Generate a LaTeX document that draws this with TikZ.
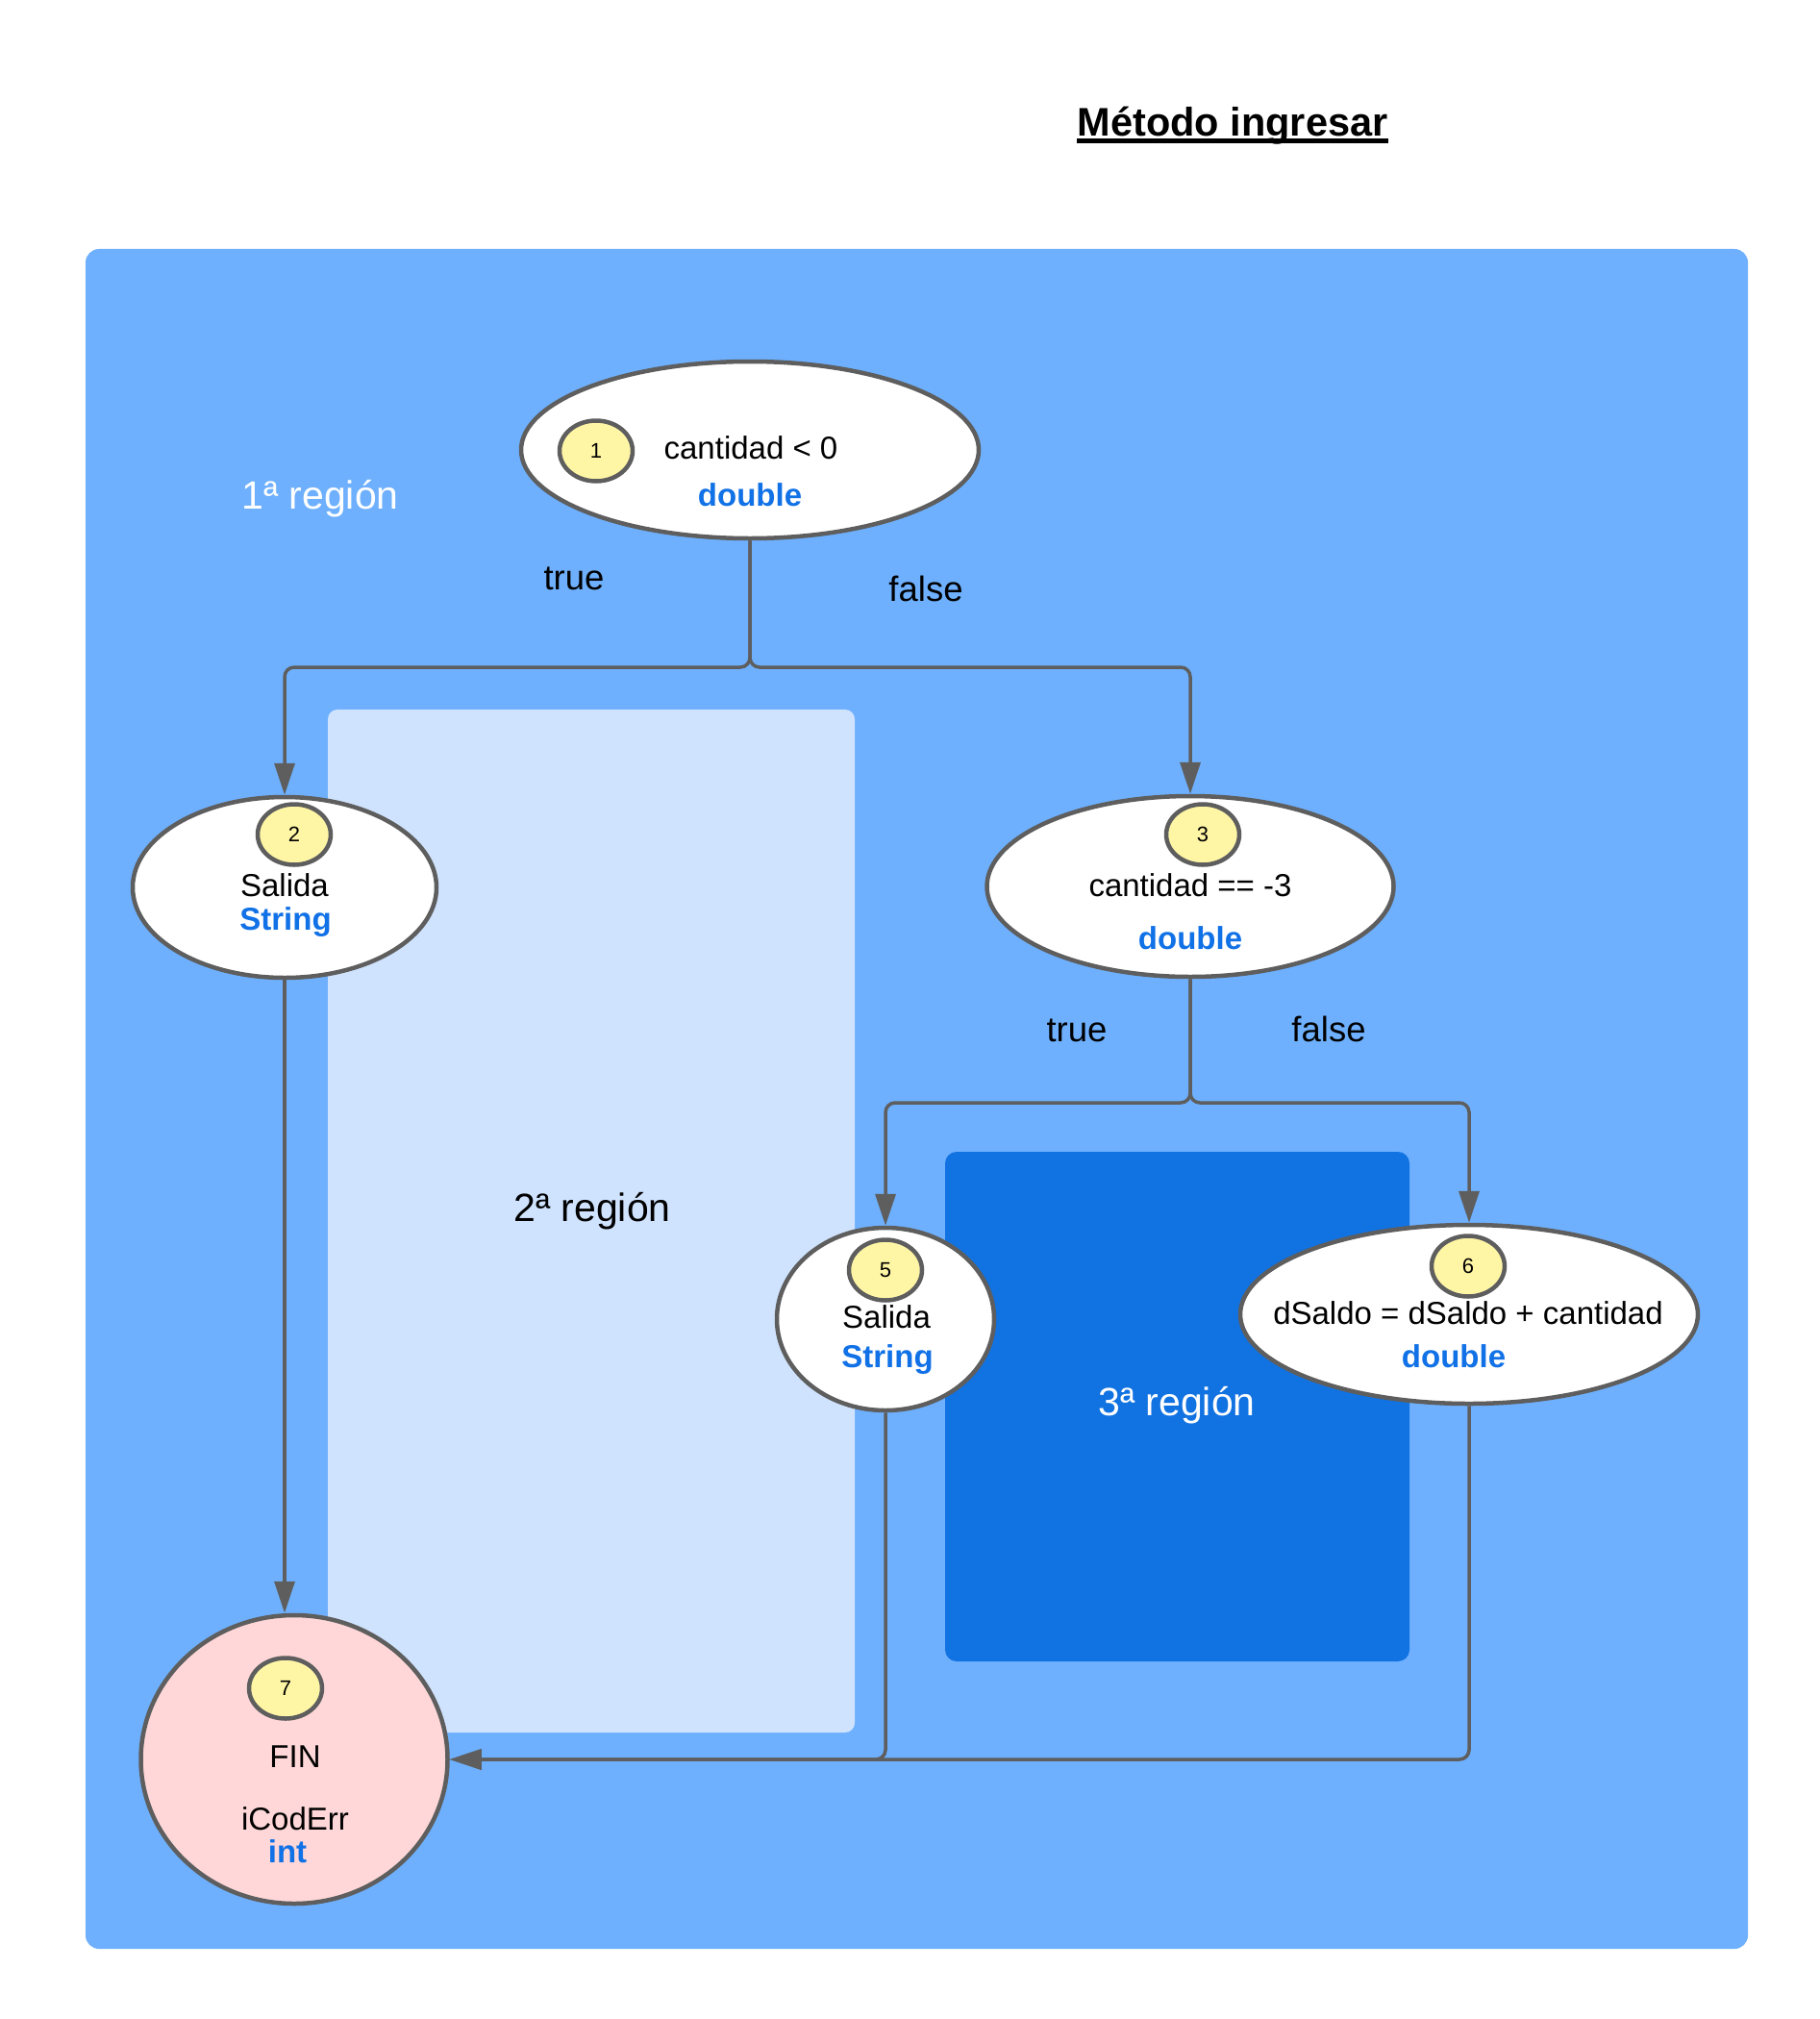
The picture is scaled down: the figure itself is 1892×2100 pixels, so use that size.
\documentclass[tikz,border=0pt]{standalone}
\usepackage{fontspec}
\setmainfont{Liberation Sans}
\usetikzlibrary{arrows.meta,shapes.geometric}
\definecolor{bgblue}{HTML}{6EB0FD}
\definecolor{lightreg}{HTML}{CFE3FE}
\definecolor{darkreg}{HTML}{1172E2}
\definecolor{edgegray}{HTML}{5E5E5E}
\definecolor{numyellow}{HTML}{FFF6A5}
\definecolor{finpink}{HTML}{FFD7D8}
\definecolor{typeblue}{HTML}{1171E6}
\begin{document}
\begin{tikzpicture}[x=1pt,y=-1pt,
  stmt/.style={ellipse, draw=edgegray, line width=4.5pt, fill=white, inner sep=0pt},
  numbox/.style={ellipse, draw=edgegray, line width=4.5pt, fill=numyellow, inner sep=0pt,
     minimum width=76pt, minimum height=63pt, font=\fontsize{22}{26}\selectfont},
  txt/.style={inner sep=0pt, anchor=base, font=\fontsize{33}{40}\selectfont},
  typ/.style={inner sep=0pt, anchor=base, text=typeblue, font=\bfseries\fontsize{33}{40}\selectfont},
  branch/.style={inner sep=0pt, anchor=base, font=\fontsize{36.5}{44}\selectfont},
  region/.style={inner sep=0pt, anchor=base, font=\fontsize{41}{50}\selectfont},
  conn/.style={draw=edgegray, line width=3.5pt, rounded corners=10pt,
     -{Triangle[length=33pt,width=21pt]}},
]
\useasboundingbox (0,0) rectangle (1892,2100);
\fill[white] (0,0) rectangle (1892,2100);

% title
\node[inner sep=0pt, anchor=base, font=\bfseries\fontsize{41.5}{50}\selectfont] (title) at (1282,142) {Método ingresar};
\draw[line width=4.5pt] ([yshift=-4.5pt]title.base west) -- ([yshift=-4.5pt]title.base east);

% regions
\fill[bgblue, rounded corners=14pt] (89,259) rectangle (1818,2027);
\fill[lightreg, rounded corners=10pt] (341,738) rectangle (889,1802);
\fill[darkreg, rounded corners=12pt] (983,1198) rectangle (1466,1728);

\node[region, text=white] (r1) at (333,529) {1ª región};
\node[region, text=black] (r2) at (616,1270) {2ª región};
\node[region, text=white] (r3) at (1224,1472) {3ª región};

% ellipses
\node[stmt, minimum width=476pt, minimum height=184pt] (e1) at (780,468) {};
\node[stmt, minimum width=316pt, minimum height=188pt] (e2) at (296,923) {};
\node[stmt, minimum width=423pt, minimum height=188pt] (e3) at (1238,922) {};
\node[stmt, minimum width=226pt, minimum height=190pt] (e5) at (921,1372) {};
\node[stmt, minimum width=476pt, minimum height=186pt] (e6) at (1528,1367) {};
\node[stmt, fill=finpink, minimum width=319pt, minimum height=300pt] (e7) at (306,1830) {};

% numbers
\node[numbox] (n1) at (620,469) {1};
\node[numbox] (n2) at (306,868) {2};
\node[numbox] (n3) at (1251,868) {3};
\node[numbox] (n5) at (921,1321) {5};
\node[numbox] (n6) at (1527,1317) {6};
\node[numbox] (n7) at (297,1756) {7};

% texts
\node[txt] (t1) at (781,477) {cantidad < 0};
\node[typ] (y1) at (780,526) {double};
\node[txt] (t2) at (296,932) {Salida};
\node[typ] (y2) at (297,967) {String};
\node[txt] (t3) at (1238,932) {cantidad == -3};
\node[typ] (y3) at (1238,987) {double};
\node[txt] (t5) at (922,1381) {Salida};
\node[typ] (y5) at (923,1422) {String};
\node[txt] (t6) at (1527,1377) {dSaldo = dSaldo + cantidad};
\node[typ] (y6) at (1512,1422) {double};
\node[txt] (t7) at (307,1838) {FIN};
\node[txt] (t7b) at (307,1903) {iCodErr};
\node[typ] (y7) at (299,1937) {int};

\node[branch] (bt1) at (597,613) {true};
\node[branch] (bf1) at (963,625) {false};
\node[branch] (bt3) at (1120,1083) {true};
\node[branch] (bf3) at (1382,1083) {false};

% connectors
\coordinate (s1) at (780,694);
\coordinate (s3) at (1238,1147);
\draw[conn] (e1.south) -- (s1) -| (e2.north);
\draw[conn] (e1.south) -- (s1) -| (e3.north);
\draw[conn] (e3.south) -- (s3) -| (e5.north);
\draw[conn] (e3.south) -- (s3) -| (e6.north);
\draw[conn] (e2.south) -- (e2.south |- e7.north);
\draw[conn] (e6.south) |- (e7.east);
\draw[conn] (e5.south) |- (e7.east);
\end{tikzpicture}
\end{document}
